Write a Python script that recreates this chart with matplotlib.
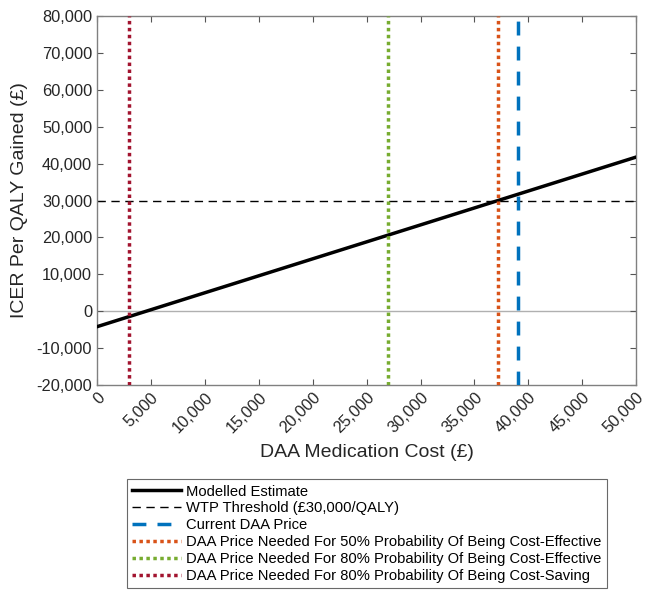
import matplotlib
matplotlib.use("Agg")
import matplotlib.pyplot as plt

plt.rcParams['font.family'] = ['Liberation Sans', 'DejaVu Sans']

cost = [0, 50000]
icer = [-4200, 41800]
wtp = 30000
current_price = 39050
price_50_ce = 37150
price_80_ce = 27000
price_80_cs = 3000

xticks = list(range(0, 50001, 5000))
yticks = list(range(-20000, 80001, 10000))

labels = ["Modelled Estimate", "WTP Threshold (£30,000/QALY)", "Current DAA Price",
          "DAA Price Needed For 50% Probability Of Being Cost-Effective",
          "DAA Price Needed For 80% Probability Of Being Cost-Effective",
          "DAA Price Needed For 80% Probability Of Being Cost-Saving"]

fig = plt.figure(figsize=(6.46, 5.96), dpi=100)
ax = fig.add_axes([0.150, 0.354, 0.835, 0.619])

ax.axhline(0, color='#b0b0b0', lw=1, zorder=1)
l1, = ax.plot(cost, icer, color='black', lw=2.5, label=labels[0], zorder=3)
l2 = ax.axhline(wtp, color='black', lw=1, ls=(0, (6, 4)), label=labels[1], zorder=2)
l3 = ax.axvline(current_price, color='#0072BD', lw=2.5, ls=(0, (4, 3.2)), label=labels[2], zorder=4)
l4 = ax.axvline(price_50_ce, color='#D95319', lw=2.5, ls=(0, (1, 1)), label=labels[3], zorder=4)
l5 = ax.axvline(price_80_ce, color='#77AC30', lw=2.5, ls=(0, (1, 1)), label=labels[4], zorder=4)
l6 = ax.axvline(price_80_cs, color='#A2142F', lw=2.5, ls=(0, (1, 1)), label=labels[5], zorder=4)

ax.set_xlim(0, 50000)
ax.set_ylim(-20000, 80000)
ax.set_xticks(xticks)
ax.set_yticks(yticks)
ax.set_xticklabels([f"{v:,}" for v in xticks], rotation=45, ha='right', rotation_mode='anchor')
ax.set_yticklabels([f"{v:,}" for v in yticks])
ax.tick_params(direction='in', top=True, right=True, labelsize=11.8, colors='#262626',
               length=4, width=0.8)
ax.tick_params(axis='both', color='#555555')
for s in ax.spines.values():
    s.set_color('#808080')
    s.set_linewidth(1)

ax.set_xlabel("DAA Medication Cost (£)", fontsize=14, color='#262626', labelpad=6)
ax.set_ylabel("ICER Per QALY Gained (£)", fontsize=14, color='#262626', labelpad=6)

leg = fig.legend(handles=[l1, l2, l3, l4, l5, l6], loc='upper center',
                 bbox_to_anchor=(0.568, 0.208), fontsize=10.6, frameon=True,
                 fancybox=False, edgecolor='#444444', handlelength=3.3,
                 handletextpad=0.4, labelspacing=0.2, borderpad=0.35)
leg.get_frame().set_linewidth(0.8)

fig.savefig("out.png", dpi=100, facecolor='white')
